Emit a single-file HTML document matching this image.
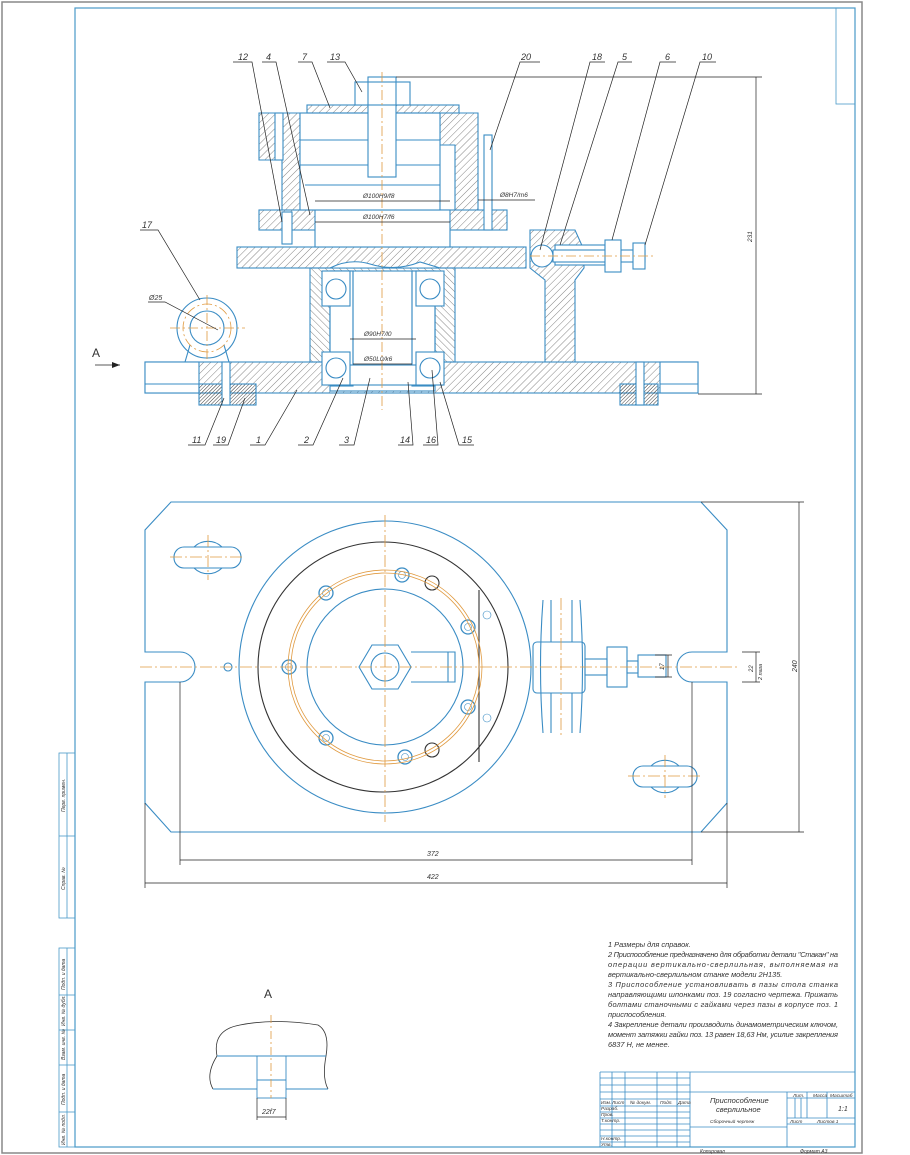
<!DOCTYPE html>
<html><head><meta charset="utf-8"><style>
html,body{margin:0;padding:0;background:#fff;}
svg{display:block;}
text{font-family:"Liberation Sans","DejaVu Sans",sans-serif;font-style:italic;fill:#333;}
</style></head><body>
<svg width="910" height="1155" viewBox="0 0 910 1155" xmlns="http://www.w3.org/2000/svg">
<defs>
<pattern id="h" width="5" height="5" patternUnits="userSpaceOnUse" patternTransform="rotate(45)">
<line x1="0" y1="0" x2="0" y2="5" stroke="#666" stroke-width="0.8"/></pattern>
<pattern id="h2" width="5" height="5" patternUnits="userSpaceOnUse" patternTransform="rotate(-45)">
<line x1="0" y1="0" x2="0" y2="5" stroke="#666" stroke-width="0.8"/></pattern>
<pattern id="hd" width="2.5" height="2.5" patternUnits="userSpaceOnUse" patternTransform="rotate(45)">
<line x1="0" y1="0" x2="0" y2="2.5" stroke="#444" stroke-width="1"/></pattern>
</defs>
<rect x="0" y="0" width="910" height="1155" fill="#fff"/>
<rect x="2" y="2" width="860" height="1151" fill="none" stroke="#888" stroke-width="1.5"/>
<rect x="75" y="8" width="780" height="1139" fill="none" stroke="#4a9ac8" stroke-width="1.2"/>
<rect x="836" y="8" width="19" height="96" fill="none" stroke="#4a9ac8" stroke-width="0.8"/>
<g stroke="#4a9ac8" stroke-width="0.8" fill="none">
<rect x="59" y="753" width="16" height="165"/><line x1="67" y1="753" x2="67" y2="918"/><line x1="59" y1="836" x2="75" y2="836"/>
<rect x="59" y="948" width="16" height="199"/><line x1="67" y1="948" x2="67" y2="1147"/>
<line x1="59" y1="995" x2="75" y2="995"/><line x1="59" y1="1030" x2="75" y2="1030"/><line x1="59" y1="1065" x2="75" y2="1065"/><line x1="59" y1="1112" x2="75" y2="1112"/>
</g>
<g font-size="5">
<text transform="translate(65,812) rotate(-90)">Перв. примен.</text>
<text transform="translate(65,890) rotate(-90)">Справ. №</text>
<text transform="translate(65,990) rotate(-90)">Подп. и дата</text>
<text transform="translate(65,1026) rotate(-90)">Инв. № дубл.</text>
<text transform="translate(65,1060) rotate(-90)">Взам. инв. №</text>
<text transform="translate(65,1105) rotate(-90)">Подп. и дата</text>
<text transform="translate(65,1145) rotate(-90)">Инв. № подл.</text>
</g>

<g stroke="#3a8cc4" stroke-width="1.1">
<rect x="145" y="362" width="553" height="31" fill="url(#h)"/>
<rect x="145" y="362" width="54" height="31" fill="#fff"/>
<rect x="660" y="362" width="38" height="31" fill="#fff"/>
<rect x="199" y="384" width="57" height="21" fill="url(#hd)"/>
<rect x="620" y="384" width="38" height="21" fill="url(#hd)"/>
<line x1="145" y1="384" x2="199" y2="384"/><line x1="660" y1="384" x2="698" y2="384"/>
<rect x="222" y="362" width="8" height="43" fill="#fff"/>
<rect x="636" y="362" width="8" height="43" fill="#fff"/>
<rect x="310" y="268" width="145" height="94" fill="url(#h2)"/>
<rect x="330" y="271" width="105" height="120" fill="#fff"/>
<rect x="330" y="271" width="23" height="115" fill="#fff"/>
<rect x="412" y="271" width="23" height="115" fill="#fff"/>
<line x1="353" y1="271" x2="353" y2="386"/><line x1="412" y1="271" x2="412" y2="386"/>
<line x1="330" y1="271" x2="330" y2="386"/><line x1="435" y1="271" x2="435" y2="386"/>
<rect x="330" y="365" width="105" height="20" fill="#fff"/>
<g fill="#fff">
<rect x="322" y="271" width="28" height="35"/><circle cx="336" cy="289" r="10"/>
<rect x="416" y="271" width="28" height="35"/><circle cx="430" cy="289" r="10"/>
<rect x="322" y="352" width="28" height="33"/><circle cx="336" cy="368" r="10"/>
<rect x="416" y="352" width="28" height="33"/><circle cx="430" cy="368" r="10"/>
</g>
<rect x="237" y="247" width="289" height="21" fill="url(#h)"/>
<path d="M330 268 Q350 258 370 264 Q395 272 420 262 L440 268 Z" fill="#fff"/>
<rect x="259" y="210" width="248" height="20" fill="url(#h)"/>
<rect x="315" y="210" width="135" height="37" fill="#fff"/>
<path d="M259 113 L300 113 L300 210 L282 210 L282 160 L259 160 Z" fill="url(#h)"/>
<path d="M440 113 L478 113 L478 210 L455 210 L455 145 L440 145 Z" fill="url(#h)"/>
<rect x="300" y="113" width="140" height="97" fill="#fff"/>
<line x1="300" y1="140" x2="440" y2="140"/><line x1="300" y1="165" x2="440" y2="165"/><line x1="305" y1="185" x2="440" y2="185"/>
<rect x="275" y="113" width="8" height="47" fill="#fff"/>
<rect x="307" y="105" width="152" height="8" fill="url(#h)"/>
<rect x="368" y="77" width="28" height="100" fill="#fff"/>
<rect x="355" y="82" width="55" height="23" fill="#fff"/>
<line x1="368" y1="82" x2="368" y2="105"/><line x1="396" y1="82" x2="396" y2="105"/>
<rect x="282" y="212" width="10" height="32" fill="#fff"/>
<rect x="484" y="135" width="8" height="95" fill="#fff"/>
<path d="M530 230 L575 230 L584 250 L584 268 L575 280 L575 362 L545 362 L545 280 L530 268 Z" fill="url(#h)"/>
<rect x="555" y="245" width="50" height="20" fill="#fff"/>
<circle cx="542" cy="256" r="11" fill="#fff"/>
<rect x="553" y="250" width="92" height="12" fill="#fff"/>
<rect x="605" y="240" width="16" height="32" fill="#fff"/>
<rect x="633" y="243" width="12" height="26" fill="#fff"/>
<circle cx="207" cy="328" r="30" fill="#fff"/>
<circle cx="207" cy="328" r="17" fill="none"/>
<line x1="190" y1="345" x2="185" y2="362"/><line x1="224" y1="345" x2="229" y2="362"/>
</g>
<g stroke="#e09a40" stroke-width="0.8" stroke-dasharray="10,3,2,3" fill="none">
<line x1="382" y1="72" x2="382" y2="410"/>
<line x1="170" y1="328" x2="245" y2="328"/><line x1="207" y1="295" x2="207" y2="362"/>
<line x1="530" y1="256" x2="655" y2="256"/>
<circle cx="207" cy="328" r="24"/>
</g>
<g stroke="#222" stroke-width="0.7" fill="none">
<line x1="396" y1="77" x2="762" y2="77"/><line x1="698" y1="394" x2="762" y2="394"/>
<line x1="756" y1="77" x2="756" y2="394"/>
<line x1="315" y1="201" x2="450" y2="201"/><line x1="315" y1="222" x2="450" y2="222"/>
<line x1="478" y1="200" x2="535" y2="200"/>
<line x1="350" y1="339" x2="416" y2="339"/><line x1="353" y1="364" x2="412" y2="364"/>
<line x1="95" y1="365" x2="120" y2="365"/>
<polyline points="233,62 252,62 282,222"/><polyline points="262,62 276,62 310,215"/>
<polyline points="298,62 312,62 330,108"/><polyline points="327,62 345,62 362,92"/>
<polyline points="540,62 520,62 490,150"/><polyline points="605,62 590,62 540,250"/>
<polyline points="632,62 618,62 560,245"/><polyline points="676,62 660,62 612,240"/>
<polyline points="716,62 700,62 645,245"/>
<polyline points="140,230 158,230 200,300"/><polyline points="148,302 165,302 218,330"/>
<polyline points="188,445 205,445 224,398"/><polyline points="213,445 228,445 245,398"/>
<polyline points="250,445 265,445 297,390"/><polyline points="298,445 313,445 343,378"/>
<polyline points="339,445 354,445 370,378"/><polyline points="398,445 413,445 408,382"/>
<polyline points="423,445 438,445 432,370"/><polyline points="474,445 459,445 440,382"/>
</g>
<polygon points="120,365 112,362 112,368" fill="#222"/>
<g font-size="9">
<text x="238" y="60">12</text><text x="266" y="60">4</text><text x="302" y="60">7</text><text x="330" y="60">13</text>
<text x="521" y="60">20</text><text x="592" y="60">18</text><text x="622" y="60">5</text><text x="665" y="60">6</text><text x="702" y="60">10</text>
<text x="142" y="228">17</text><text x="149" y="300" font-size="7">Ø25</text>
<text x="192" y="443">11</text><text x="216" y="443">19</text><text x="256" y="443">1</text><text x="304" y="443">2</text>
<text x="344" y="443">3</text><text x="400" y="443">14</text><text x="426" y="443">16</text><text x="462" y="443">15</text>
</g>
<text x="92" y="357" font-size="12" style="font-style:normal">A</text>
<g font-size="6.5">
<text x="363" y="198">Ø100H9/f8</text><text x="363" y="219">Ø100H7/f6</text>
<text x="500" y="197">Ø8H7/m6</text>
<text x="364" y="336">Ø90H7/l0</text><text x="364" y="361">Ø50L0/k6</text>
<text transform="translate(752,242) rotate(-90)">231</text>
</g>

<g stroke="#3a8cc4" stroke-width="1.1" fill="none">
<path d="M171 502 L701 502 L727 530 L727 652 L692 652 A15 15 0 0 0 692 682 L727 682 L727 803 L701 832 L171 832 L145 803 L145 682 L180 682 A15 15 0 0 0 180 652 L145 652 L145 530 Z"/>
<circle cx="385" cy="667" r="146"/>
<circle cx="383" cy="667" r="125" stroke="#333"/>
<circle cx="385" cy="667" r="78"/>
<polygon points="359,667 372,645 398,645 411,667 398,689 372,689"/>
<circle cx="385" cy="667" r="14"/>
<path d="M411 652 L455 652 L455 682 L411 682"/><line x1="448" y1="652" x2="448" y2="682"/>
<rect x="533" y="642" width="52" height="51" rx="4"/>
<line x1="551" y1="600" x2="551" y2="642"/><line x1="572" y1="600" x2="572" y2="642"/>
<line x1="551" y1="693" x2="551" y2="733"/><line x1="572" y1="693" x2="572" y2="733"/>
<rect x="585" y="659" width="22" height="16"/>
<rect x="607" y="647" width="20" height="40"/>
<rect x="627" y="661" width="11" height="12"/>
<rect x="638" y="655" width="28" height="22"/>
<rect x="174" y="547" width="67" height="21" rx="10"/>
<rect x="633" y="766" width="64" height="21" rx="10"/>
<path d="M194 547 A20 20 0 0 1 222 547 M194 568 A20 20 0 0 0 222 568"/>
<path d="M651 766 A20 20 0 0 1 679 766 M651 787 A20 20 0 0 0 679 787"/>
<circle cx="228" cy="667" r="4"/>
<g stroke-width="1.3">
<circle cx="402" cy="575" r="7"/><circle cx="326" cy="593" r="7"/><circle cx="289" cy="667" r="7"/>
<circle cx="468" cy="627" r="7"/><circle cx="468" cy="707" r="7"/><circle cx="326" cy="738" r="7"/><circle cx="405" cy="757" r="7"/>
</g>
<g stroke-width="0.6">
<circle cx="402" cy="575" r="3.5"/><circle cx="326" cy="593" r="3.5"/><circle cx="289" cy="667" r="3.5"/>
<circle cx="468" cy="627" r="3.5"/><circle cx="468" cy="707" r="3.5"/><circle cx="326" cy="738" r="3.5"/><circle cx="405" cy="757" r="3.5"/>
<circle cx="487" cy="615" r="4"/><circle cx="487" cy="718" r="4"/>
</g>
<circle cx="432" cy="583" r="7" stroke="#333"/><circle cx="432" cy="750" r="7" stroke="#333"/>
<line x1="479" y1="590" x2="479" y2="762" stroke="#333"/>
<path d="M543 600 Q538 667 543 733 M580 600 Q585 667 580 733"/>
</g>
<g stroke="#e09a40" stroke-width="0.8" fill="none">
<circle cx="385" cy="667" r="97"/><circle cx="385" cy="667" r="94"/>
<g stroke-dasharray="12,3,2,3">
<line x1="140" y1="667" x2="740" y2="667"/><line x1="385" y1="515" x2="385" y2="822"/>
<line x1="170" y1="557" x2="245" y2="557"/><line x1="208" y1="535" x2="208" y2="580"/>
<line x1="628" y1="776" x2="702" y2="776"/><line x1="665" y1="755" x2="665" y2="798"/>
<line x1="561" y1="598" x2="561" y2="735"/>
</g>
</g>
<g stroke="#222" stroke-width="0.7" fill="none">
<line x1="180" y1="682" x2="180" y2="865"/><line x1="692" y1="682" x2="692" y2="865"/>
<line x1="180" y1="860" x2="692" y2="860"/>
<line x1="145" y1="803" x2="145" y2="888"/><line x1="727" y1="803" x2="727" y2="888"/>
<line x1="145" y1="883" x2="727" y2="883"/>
<line x1="701" y1="502" x2="804" y2="502"/><line x1="701" y1="832" x2="804" y2="832"/>
<line x1="799" y1="502" x2="799" y2="832"/>
<line x1="742" y1="652" x2="760" y2="652"/><line x1="742" y1="682" x2="760" y2="682"/><line x1="756" y1="652" x2="756" y2="682"/>
<line x1="655" y1="655" x2="672" y2="655"/><line x1="655" y1="677" x2="672" y2="677"/><line x1="668" y1="655" x2="668" y2="677"/>
</g>
<g font-size="7">
<text x="427" y="856">372</text><text x="427" y="879">422</text>
<text transform="translate(797,672) rotate(-90)">240</text>
<text transform="translate(753,672) rotate(-90)" font-size="6">22</text>
<text transform="translate(762,680) rotate(-90)" font-size="5.5">2 паза</text>
<text transform="translate(664,670) rotate(-90)" font-size="6">17</text>
</g>

<text x="264" y="998" font-size="12" style="font-style:normal">A</text>
<g stroke="#333" stroke-width="0.8" fill="none">
<path d="M217 1056 Q212 1030 240 1025 Q275 1018 318 1025 Q330 1032 326 1056"/>
<path d="M217 1056 Q205 1075 213 1089 M326 1056 Q322 1078 328 1089"/>
</g>
<g stroke="#3a8cc4" stroke-width="0.9" fill="none">
<line x1="217" y1="1056" x2="326" y2="1056"/>
<line x1="213" y1="1089" x2="257" y2="1089"/><line x1="286" y1="1089" x2="328" y2="1089"/>
<rect x="257" y="1056" width="29" height="42"/><line x1="257" y1="1080" x2="286" y2="1080"/>
</g>
<line x1="271" y1="1015" x2="271" y2="1098" stroke="#e09a40" stroke-width="0.8" stroke-dasharray="8,3,2,3"/>
<g stroke="#222" stroke-width="0.7"><line x1="257" y1="1098" x2="257" y2="1120"/><line x1="286" y1="1098" x2="286" y2="1120"/><line x1="257" y1="1117" x2="286" y2="1117"/></g>
<text x="262" y="1114" font-size="7">22f7</text>

<g font-size="7.4">
<text x="608" y="947">1 Размеры для справок.</text>
<text x="608" y="957" textLength="230">2 Приспособление предназначено для обработки детали "Стакан" на</text>
<text x="608" y="967" textLength="230">операции    вертикально-сверлильная,    выполняемая    на</text>
<text x="608" y="977">вертикально-сверлильном станке модели 2Н135.</text>
<text x="608" y="987" textLength="230">3 Приспособление   установливать   в   пазы   стола   станка</text>
<text x="608" y="997" textLength="230">направляющими шпонками поз. 19 согласно чертежа. Прижать</text>
<text x="608" y="1007" textLength="230">болтами станочными с гайками через пазы в корпусе поз. 1</text>
<text x="608" y="1017">приспособления.</text>
<text x="608" y="1027" textLength="230">4 Закрепление детали производить динамометрическим ключом,</text>
<text x="608" y="1037" textLength="230">момент затяжки гайки поз. 13 равен 18,63 Нм, усилие закрепления</text>
<text x="608" y="1047">6837 Н, не менее.</text>
</g>

<g stroke="#3a8cc4" stroke-width="0.8" fill="none">
<line x1="600" y1="1072" x2="855" y2="1072"/>
<line x1="600" y1="1072" x2="600" y2="1147"/>
<line x1="690" y1="1072" x2="690" y2="1147"/>
<line x1="612" y1="1072" x2="612" y2="1147"/><line x1="625" y1="1072" x2="625" y2="1147"/>
<line x1="657" y1="1072" x2="657" y2="1147"/><line x1="677" y1="1072" x2="677" y2="1147"/>
<line x1="600" y1="1078" x2="690" y2="1078"/><line x1="600" y1="1085" x2="690" y2="1085"/>
<line x1="600" y1="1092" x2="690" y2="1092"/><line x1="600" y1="1099" x2="690" y2="1099"/>
<line x1="600" y1="1106" x2="690" y2="1106"/><line x1="600" y1="1112" x2="690" y2="1112"/>
<line x1="600" y1="1118" x2="690" y2="1118"/><line x1="600" y1="1124" x2="690" y2="1124"/>
<line x1="600" y1="1130" x2="690" y2="1130"/><line x1="600" y1="1136" x2="690" y2="1136"/>
<line x1="600" y1="1142" x2="690" y2="1142"/>
<line x1="690" y1="1092" x2="855" y2="1092"/>
<line x1="787" y1="1092" x2="787" y2="1147"/>
<line x1="787" y1="1098" x2="855" y2="1098"/>
<line x1="807" y1="1092" x2="807" y2="1118"/><line x1="827" y1="1092" x2="827" y2="1118"/>
<line x1="795" y1="1098" x2="795" y2="1118"/><line x1="801" y1="1098" x2="801" y2="1118"/>
<line x1="787" y1="1118" x2="855" y2="1118"/><line x1="787" y1="1124" x2="855" y2="1124"/>
<line x1="690" y1="1127" x2="787" y2="1127"/>
</g>
<g font-size="4.8">
<text x="601" y="1104">Изм.</text><text x="612" y="1104">Лист</text><text x="630" y="1104">№ докум.</text><text x="660" y="1104">Подп.</text><text x="678" y="1104">Дата</text>
<text x="601" y="1110">Разраб.</text><text x="601" y="1116">Пров.</text><text x="601" y="1122">Т.контр.</text>
<text x="601" y="1140">Н.контр.</text><text x="601" y="1146">Утв.</text>
<text x="793" y="1097">Лит.</text><text x="813" y="1097">Масса</text><text x="830" y="1097">Масштаб</text>
<text x="790" y="1123">Лист</text><text x="817" y="1123">Листов  1</text>
<text x="710" y="1123">Сборочный чертеж</text>
</g>
<text x="710" y="1103" font-size="7.5">Приспособление</text>
<text x="716" y="1112" font-size="7.5">сверлильное</text>
<text x="838" y="1111" font-size="7">1:1</text>
<text x="700" y="1153" font-size="5">Копировал</text>
<text x="800" y="1153" font-size="5">Формат   А3</text>
</svg>
</body></html>
